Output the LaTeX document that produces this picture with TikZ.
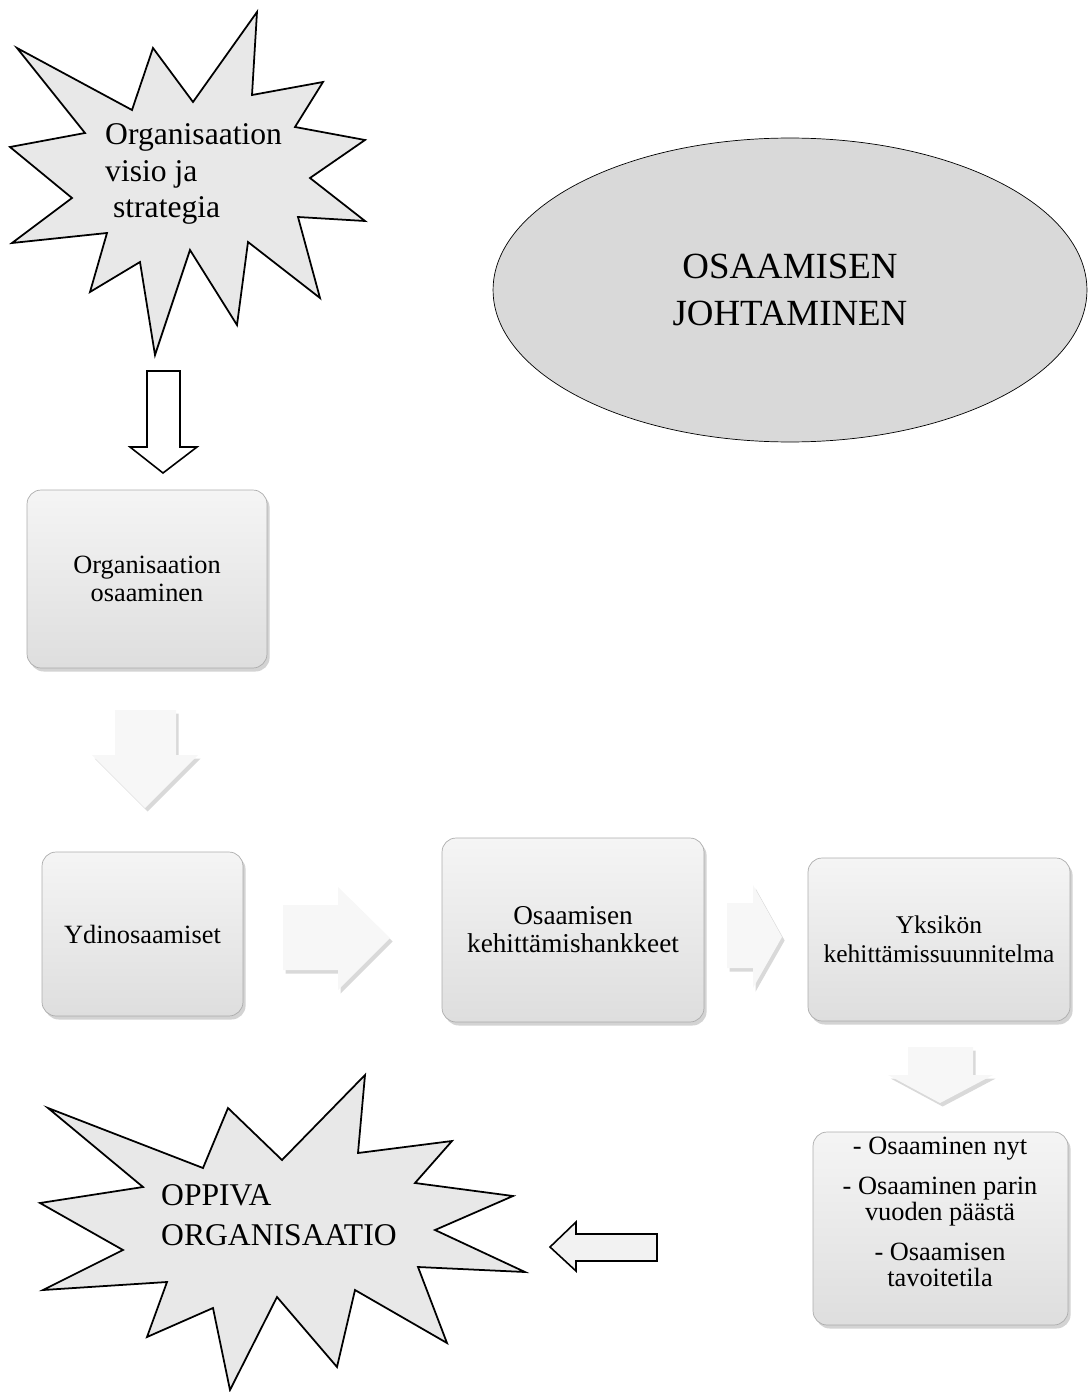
\documentclass[tikz,border=0pt]{standalone}
\usepackage{fontspec}
\setmainfont{Liberation Serif}
\usetikzlibrary{shapes.geometric,shadows}

\begin{document}
\begin{tikzpicture}[x=0.02cm, y=-0.02cm,
    burst/.style={draw, line width=1pt, fill=gray!18, line join=miter},
    box/.style={draw=gray!65, rounded corners=8pt, top color=gray!8, bottom color=gray!26,
      drop shadow={opacity=0.35, shadow xshift=1.5pt, shadow yshift=-2pt},
      align=center, font=\fontsize{15}{15.5}\selectfont},
    lightarrow/.style={fill=gray!6, drop shadow={opacity=0.3, shadow xshift=1.5pt, shadow yshift=-2pt}},
    openarrow/.style={draw, line width=0.9pt, line join=miter}]
  \useasboundingbox (0,0) rectangle (1088,1392);

  \draw[burst] (257,12) -- (252,95) -- (323,82) -- (295,127) -- (365,140) -- (310,178) -- (365,221)
    -- (298,217) -- (320,298) -- (248,242) -- (237,325) -- (190,250) -- (155,355) -- (140,262)
    -- (90,292) -- (107,233) -- (12,243) -- (72,198) -- (10,147) -- (85,133) -- (17,48)
    -- (132,110) -- (153,48) -- (193,102) -- cycle;
  \node[align=left, anchor=west, font=\fontsize{18}{21}\selectfont] (vision) at (99,174)
    {Organisaation\\ visio ja\\ \ strategia};

  \node[ellipse, draw, fill=gray!30, minimum width=11.88cm, minimum height=6.08cm,
    align=center, font=\fontsize{21}{27}\selectfont] (johto) at (790,290) {OSAAMISEN\\ JOHTAMINEN};

  \draw[openarrow, fill=white] (147,371) -- (180,371) -- (180,447) -- (197,447) -- (163,473)
    -- (130,447) -- (147,447) -- cycle;

  \node[box, minimum width=4.8cm, minimum height=3.56cm] (orgosaa) at (147,579)
    {Organisaation\\ osaaminen};

  \fill[lightarrow] (115,710) -- (176,710) -- (176,755) -- (198,755) -- (145,808) -- (92,755)
    -- (115,755) -- cycle;

  \node[box, minimum width=4.02cm, minimum height=3.28cm] (ydin) at (142.5,934) {Ydinosaamiset};

  \fill[lightarrow] (283,905) -- (338,905) -- (338,887) -- (390,938) -- (338,990) -- (338,970)
    -- (283,970) -- cycle;

  \node[box, minimum width=5.24cm, minimum height=3.68cm, font=\fontsize{15.5}{16}\selectfont]
    (hanke) at (573,930) {Osaamisen\\ kehittämishankkeet};

  \fill[lightarrow] (727,903) -- (753,903) -- (753,885) -- (782,937) -- (753,988) -- (753,968)
    -- (727,968) -- cycle;

  \node[box, minimum width=5.24cm, minimum height=3.26cm, font=\fontsize{14.5}{16.5}\selectfont]
    (yksikko) at (939,939.5) {Yksikön\\ kehittämissuunnitelma};

  \fill[lightarrow] (908,1047) -- (973,1047) -- (973,1075) -- (993,1075) -- (940,1103)
    -- (888,1075) -- (908,1075) -- cycle;

  \node[box, minimum width=5.1cm, minimum height=3.86cm] (tila) at (940.5,1228.5) {};
  \node[align=center, font=\fontsize{15}{14.8}\selectfont] (tilateksti) at (940,1212)
    {- Osaaminen nyt\\[8pt] - Osaaminen parin\\ vuoden päästä\\[8pt] - Osaamisen\\ tavoitetila};

  \draw[openarrow, fill=gray!10] (657,1234) -- (576,1234) -- (576,1222) -- (550,1247)
    -- (576,1271) -- (576,1261) -- (657,1261) -- cycle;

  \draw[burst] (365,1075) -- (358,1153) -- (452,1141) -- (415,1183) -- (513,1196) -- (435,1230)
    -- (525,1272) -- (418,1267) -- (447,1343) -- (355,1290) -- (337,1367) -- (277,1297)
    -- (230,1390) -- (213,1308) -- (147,1337) -- (167,1282) -- (43,1290) -- (123,1250)
    -- (40,1203) -- (143,1187) -- (48,1108) -- (203,1168) -- (228,1108) -- (282,1160) -- cycle;
  \node[align=left, anchor=west, font=\fontsize{18}{22.5}\selectfont] (oppiva) at (155,1215)
    {OPPIVA\\ ORGANISAATIO};
\end{tikzpicture}
\end{document}
